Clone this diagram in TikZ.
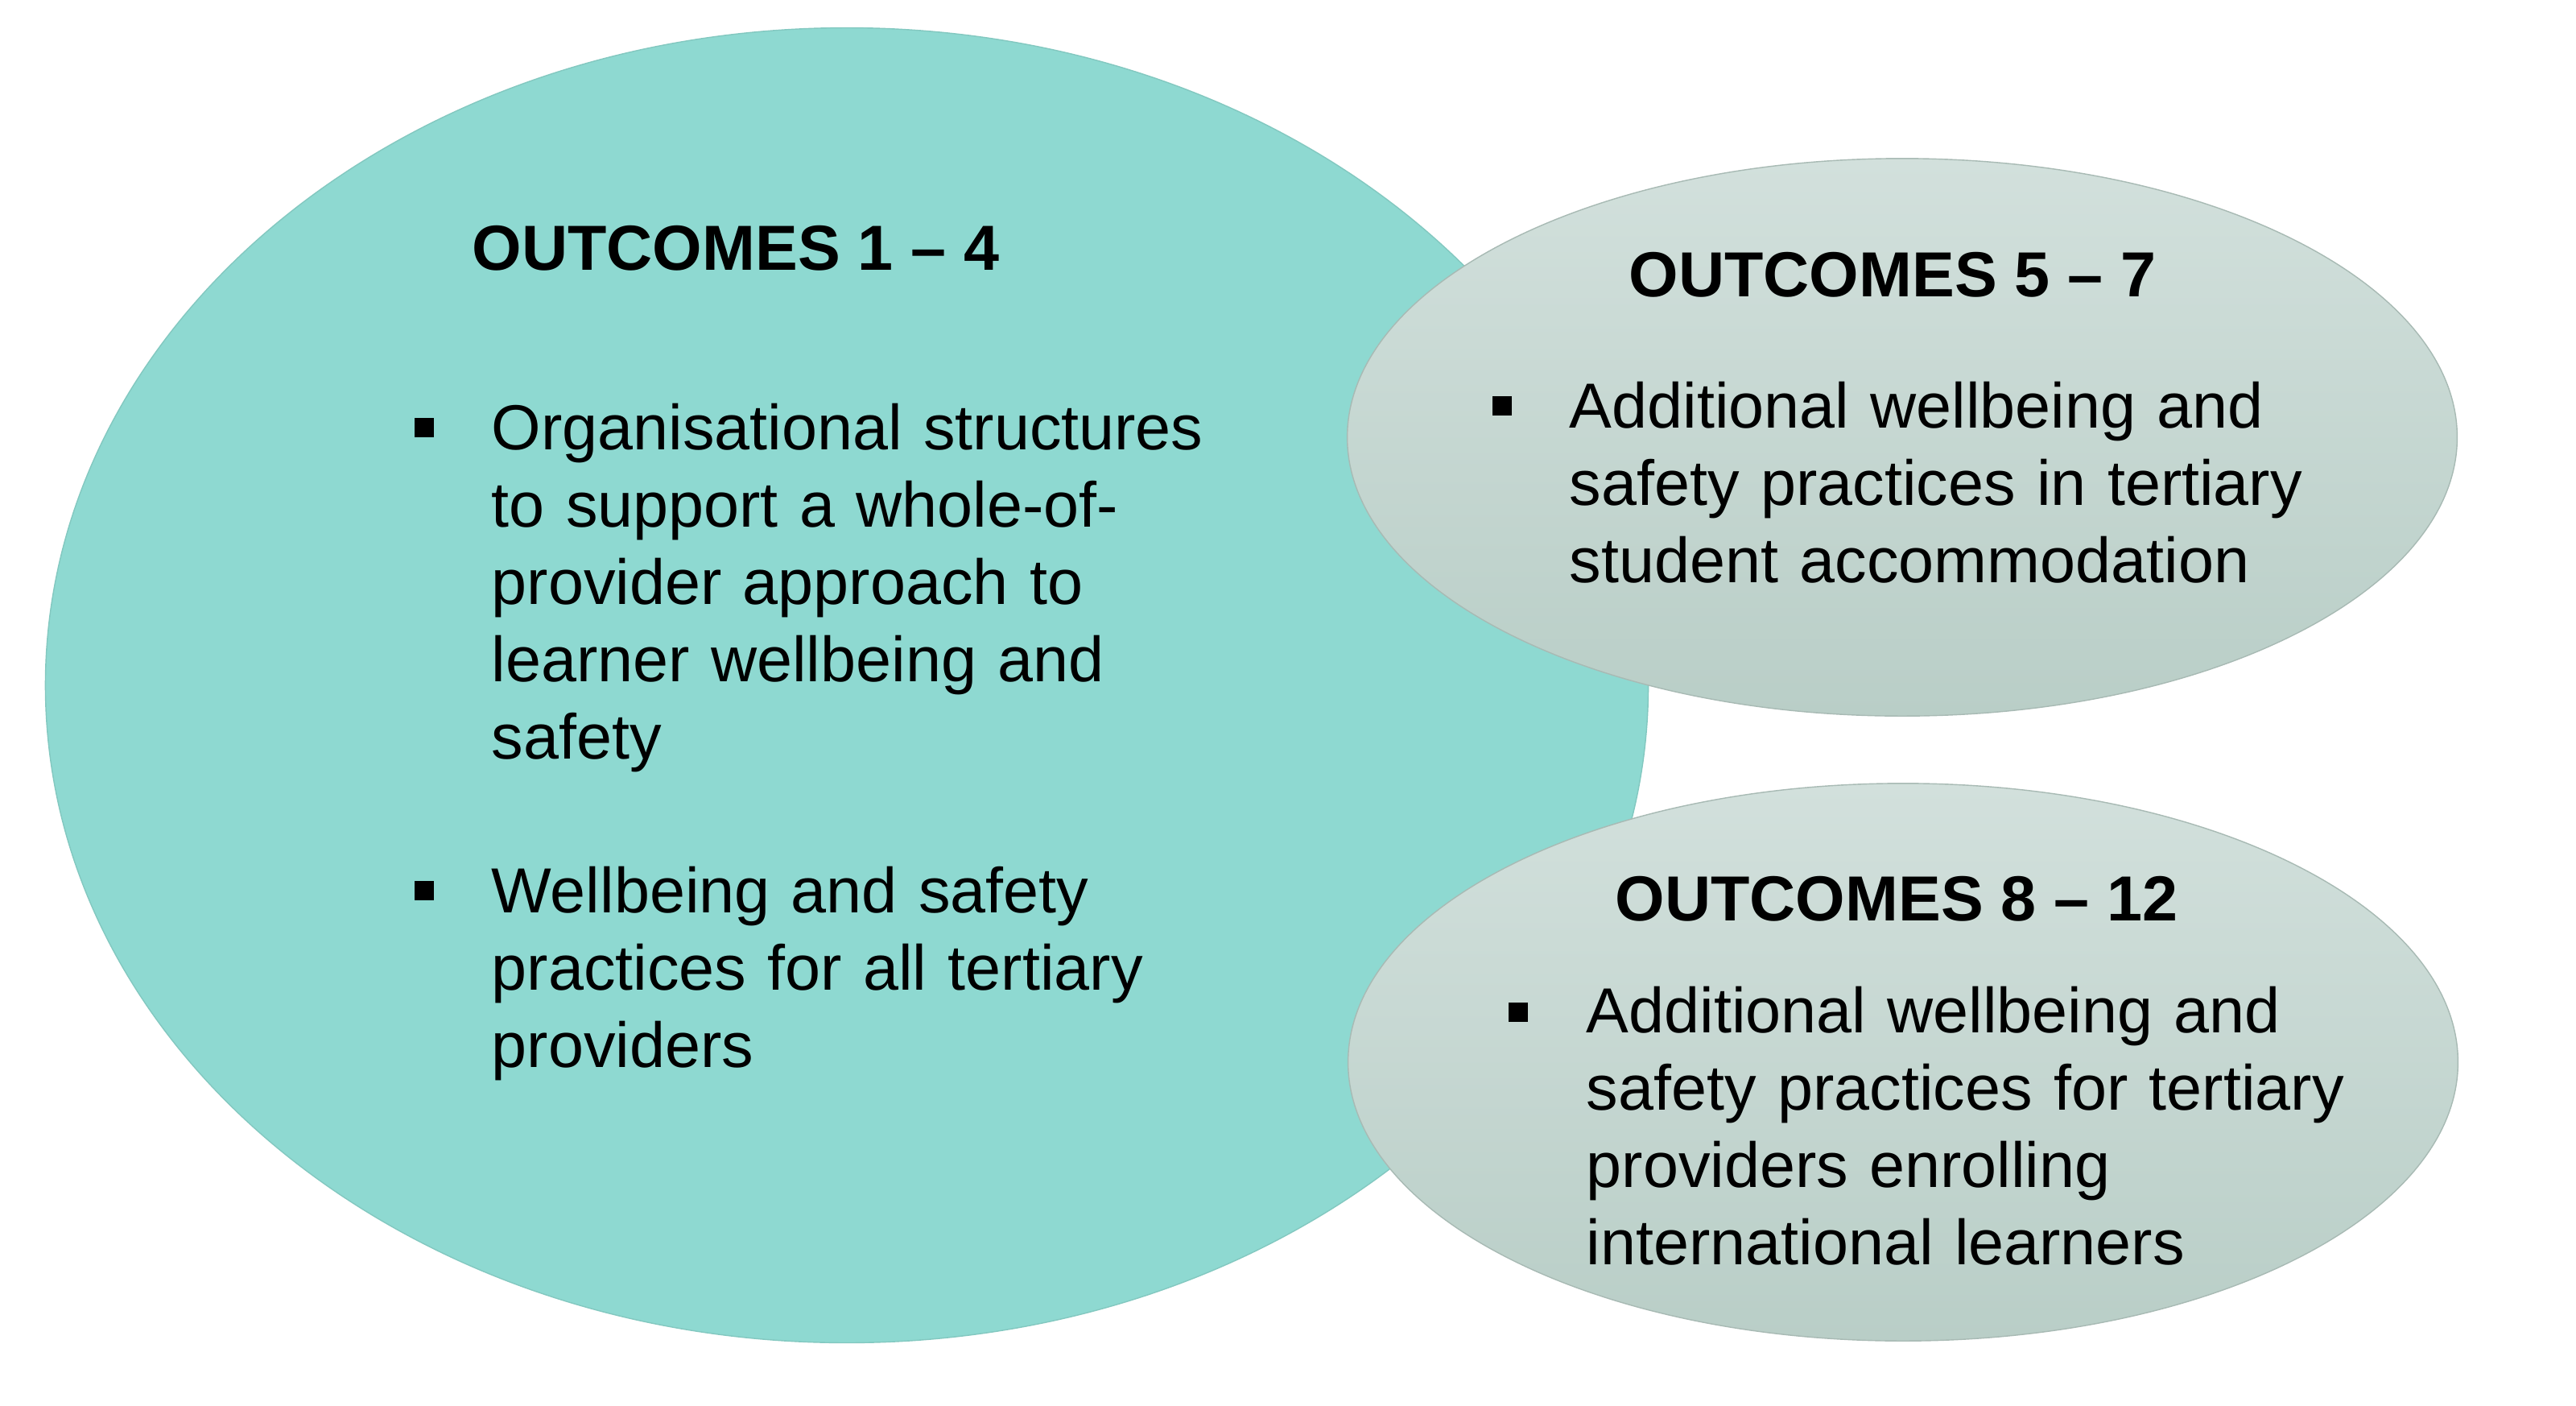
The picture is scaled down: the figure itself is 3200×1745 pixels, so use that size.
\documentclass[tikz,border=0pt]{standalone}
\usepackage{fontspec}
\setmainfont{Liberation Sans}
\usepackage{tikz}
\usetikzlibrary{shapes.geometric}
\usetikzlibrary{positioning}
\definecolor{tealfill}{RGB}{142,217,209}
\definecolor{greytop}{RGB}{210,224,220}
\definecolor{greybot}{RGB}{185,206,199}
\definecolor{greyline}{RGB}{168,186,180}
\newcommand\outsize{\fontsize{22.5}{27.3}\selectfont}

\begin{document}
\begin{tikzpicture}[x=0.01cm,y=-0.01cm]%
        \useasboundingbox (0,0) rectangle (3200,1745);%%
        \begin{scope}[shape=ellipse,inner sep=0pt]
        \tikzstyle{every node}=[line width=0.4pt] %%
        \node[fill=tealfill,draw=tealfill!92!black,minimum width=19.9cm,minimum height=16.32cm] (big) at (1052,851) {}; %%
        \node[top color=greytop,bottom color=greybot,draw=greyline,minimum width=13.78cm,minimum height=6.92cm] (upper) at (2363,543) {}; %%
        \node[top color=greytop,bottom color=greybot,draw=greyline,minimum width=13.78cm,minimum height=6.92cm] (lower) at (2364,1319) {}; %%
        \end{scope}%
        \begin{scope}[inner sep=0pt]
        \tikzstyle{every node}=[anchor=base west,font=\outsize] %%
        \node[font=\outsize\bfseries] (t1) at (586,335) {OUTCOMES 1 -- 4}; %%
        \node[font=\outsize\bfseries] (t2) at (2023,368) {OUTCOMES 5 -- 7}; %%
        \node[font=\outsize\bfseries] (t3) at (2006,1143) {OUTCOMES 8 -- 12}; %%
        \node[text width=10cm,align=left] (b1) at (610,558) {Organisational structures\\to support a whole-of-\\provider approach to\\learner wellbeing and\\safety}; %%
        \node[text width=10cm,align=left] (b2) at (610,1133) {Wellbeing and safety\\practices for all tertiary\\providers}; %%
        \node[text width=10cm,align=left] (b3) at (1949,531) {Additional wellbeing and\\safety practices in tertiary\\student accommodation}; %%
        \node[text width=10cm,align=left] (b4) at (1970,1282) {Additional wellbeing and\\safety practices for tertiary\\providers enrolling\\international learners}; %%
        \end{scope}
        \begin{scope}[shape=rectangle,inner sep=0pt,minimum size=0.235cm]
        \tikzstyle{every node}=[fill=black] %%
        \node (m1) at (527,531) {}; %%
        \node (m2) at (527,1106) {}; %%
        \node (m3) at (1866,504) {}; %%
        \node (m4) at (1886,1257) {}; %%
        \end{scope}
\end{tikzpicture}
\end{document}
